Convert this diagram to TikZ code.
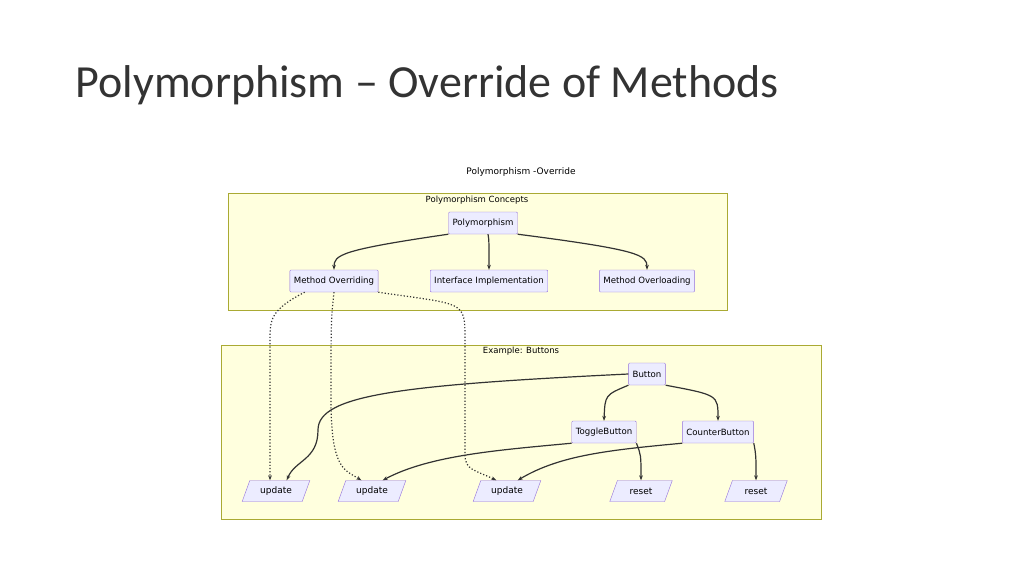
\documentclass[tikz,border=0pt]{standalone}
\usepackage{fontspec}
\setmainfont{Carlito}
\newfontfamily\mmd{DejaVu Sans}
\usetikzlibrary{shapes.geometric,arrows.meta}
\definecolor{nodefill}{HTML}{ECECFF}
\definecolor{nodeline}{HTML}{9370DB}
\definecolor{groupfill}{HTML}{FFFFDE}
\definecolor{groupline}{HTML}{AAAA33}
\definecolor{edgecol}{HTML}{333333}
\tikzset{
  conc/.style={draw=nodeline, fill=nodefill, rounded corners=1pt, font=\mmd\fontsize{8.6}{10}\selectfont,
    minimum height=22pt, inner xsep=4pt},
  meth/.style={trapezium, trapezium left angle=70, trapezium right angle=110, draw=nodeline,
    fill=nodefill, font=\mmd\fontsize{9}{10}\selectfont, minimum height=21pt, minimum width=58pt},
  grp/.style={draw=groupline, fill=groupfill, line width=0.8pt},
  link/.style={edgecol, line width=1.2pt, -{Stealth[length=5pt]}},
  dotlink/.style={edgecol, line width=1.2pt, dotted, -{Stealth[length=5pt]}}
}
\begin{document}
\begin{tikzpicture}[x=1pt, y=-1pt]
\useasboundingbox (0,0) rectangle (1024,576);
% Slide title
\node[anchor=west, text=black!80, font=\fontsize{46}{52}\selectfont] (title) at (72,85) {Polymorphism -- Override of Methods};
\node[font=\mmd\fontsize{9}{10}\selectfont] (diag) at (521,172) {Polymorphism -Override};
% Groups
\draw[grp] (228,193) rectangle (727,310);
\node[font=\mmd\fontsize{8.5}{9}\selectfont] (cgrp) at (477,200) {Polymorphism Concepts};
\draw[grp] (221,345) rectangle (821,519);
\node[font=\mmd\fontsize{8.5}{9}\selectfont] (bgrp) at (521,351) {Example: Buttons};
% Concepts
\node[conc] (poly) at (483,223) {Polymorphism};
\node[conc] (over) at (334,281) {Method Overriding};
\node[conc] (iface) at (489,281) {Interface Implementation};
\node[conc] (load) at (647,281) {Method Overloading};
% Buttons
\node[conc] (btn) at (647,374) {Button};
\node[conc] (tog) at (604,432) {ToggleButton};
\node[conc] (cnt) at (718,432) {CounterButton};
\node[meth] (upa) at (276,491) {update};
\node[meth] (upb) at (372,491) {update};
\node[meth] (upc) at (507,491) {update};
\node[meth, minimum width=50pt] (rsa) at (641,491) {reset};
\node[meth, minimum width=50pt] (rsb) at (756,491) {reset};
% Edges
\draw[link] (poly.south west) .. controls (340,250) and (334,255) .. (over.north);
\draw[link] (poly.south) ++(5,0) coordinate (ps) .. controls (489,240) .. (iface.north);
\draw[link] (poly.south east) .. controls (640,250) and (647,255) .. (load.north);
\draw[dotlink] (over.south west) ++(15,0) coordinate (oa) .. controls (270,310) and (270,320) .. (270,340) -- (upa.north -| 270,0);
\draw[dotlink] (over.south) coordinate (ob) .. controls (331,320) .. (331,400) .. controls (331,470) and (345,470) .. (upb.north west);
\draw[dotlink] (over.south east) .. controls (465,305) and (465,300) .. (465,340) -- (465,455) .. controls (465,470) and (475,470) .. (upc.north west);
\draw[link] (btn.west) .. controls (400,385) and (318,395) .. (318,430) .. controls (318,460) and (295,460) .. (upa.north east);
\draw[link] (btn.south west) .. controls (605,395) .. (tog.north);
\draw[link] (btn.south east) .. controls (718,395) .. (cnt.north);
\draw[link] (tog.south west) .. controls (500,450) and (430,455) .. (upb.north east);
\draw[link] (tog.south east) .. controls (641,455) .. (rsa.north);
\draw[link] (cnt.south west) .. controls (610,450) and (560,455) .. (upc.north east);
\draw[link] (cnt.south east) .. controls (756,455) .. (rsb.north);
\end{tikzpicture}
\end{document}
